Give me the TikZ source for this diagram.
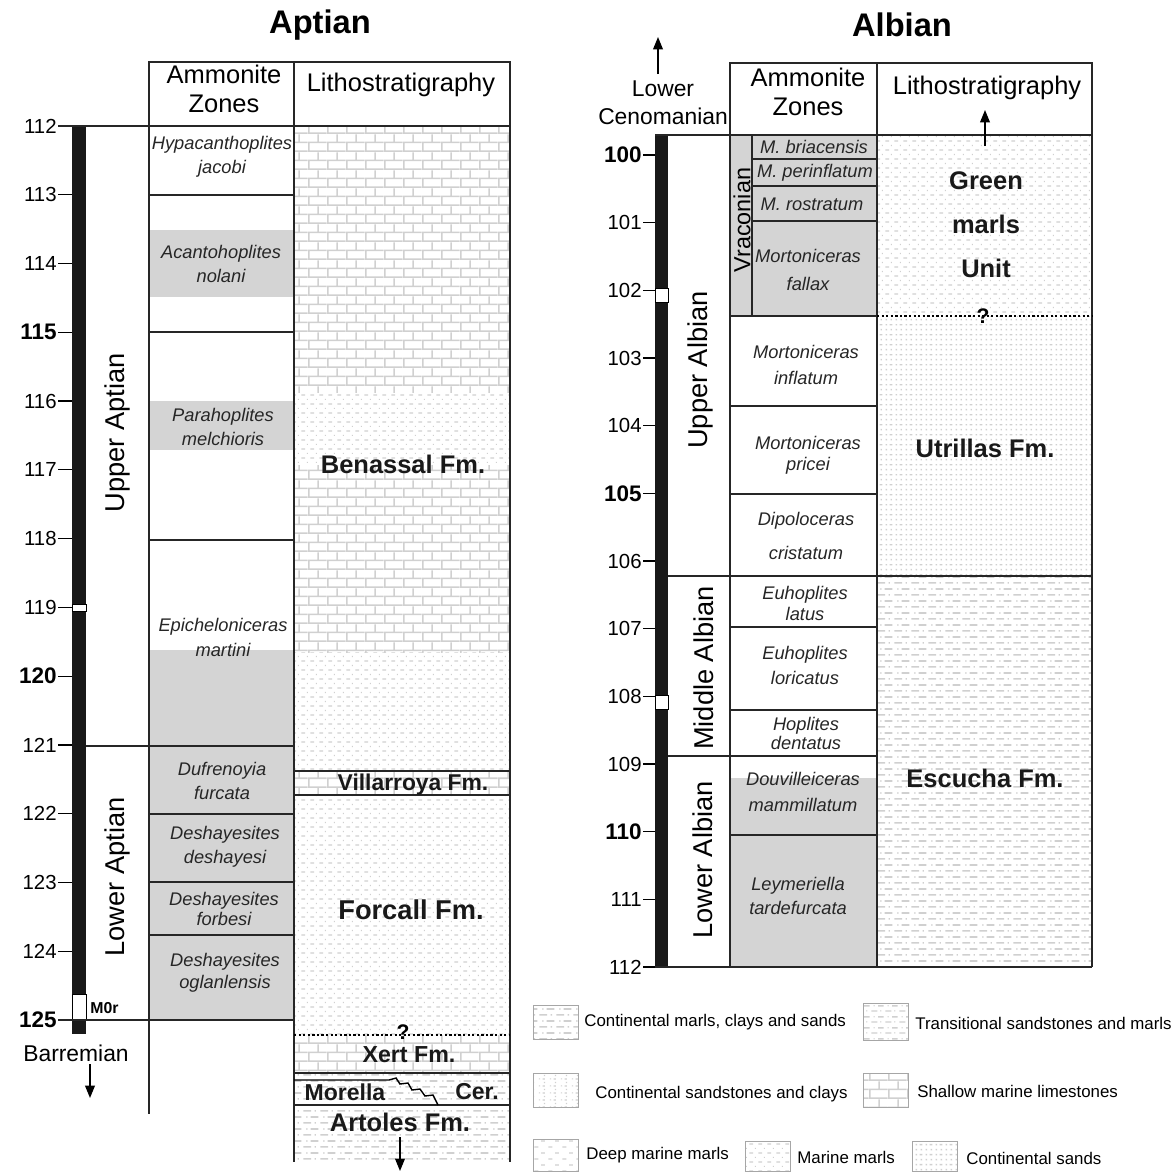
\documentclass[tikz,border=0pt]{standalone}
\usepackage{fontspec}
\setmainfont{Liberation Sans}
\usetikzlibrary{patterns,arrows.meta}

\definecolor{zonegray}{RGB}{212,212,212}
\definecolor{patgray}{RGB}{208,208,208}

% lithology patterns
\pgfdeclarepatternformonly{limebricks}{\pgfpointorigin}{\pgfqpoint{11pt}{10.4pt}}{\pgfqpoint{11pt}{10.4pt}}{%
  \pgfsetlinewidth{0.9pt}
  \pgfpathmoveto{\pgfqpoint{0pt}{0.5pt}}\pgfpathlineto{\pgfqpoint{11pt}{0.5pt}}
  \pgfpathmoveto{\pgfqpoint{0pt}{5.7pt}}\pgfpathlineto{\pgfqpoint{11pt}{5.7pt}}
  \pgfpathmoveto{\pgfqpoint{0.5pt}{0.5pt}}\pgfpathlineto{\pgfqpoint{0.5pt}{5.7pt}}
  \pgfpathmoveto{\pgfqpoint{6pt}{5.7pt}}\pgfpathlineto{\pgfqpoint{6pt}{10.4pt}}
  \pgfusepath{stroke}}
\pgfdeclarepatternformonly{marinemarls}{\pgfpointorigin}{\pgfqpoint{5.2pt}{5.2pt}}{\pgfqpoint{5.2pt}{5.2pt}}{%
  \pgfsetlinewidth{0.8pt}
  \pgfpathmoveto{\pgfqpoint{0.3pt}{0.6pt}}\pgfpathlineto{\pgfqpoint{2.5pt}{0.6pt}}
  \pgfusepath{stroke}
  \pgfpathrectangle{\pgfqpoint{3.6pt}{3.1pt}}{\pgfqpoint{0.7pt}{0.7pt}}
  \pgfusepath{fill}}
\pgfdeclarepatternformonly{contsands}{\pgfpointorigin}{\pgfqpoint{5.6pt}{5.6pt}}{\pgfqpoint{5.6pt}{5.6pt}}{%
  \pgfsetlinewidth{0.8pt}
  \pgfpathmoveto{\pgfqpoint{2.6pt}{3.6pt}}\pgfpathlineto{\pgfqpoint{4.2pt}{3.6pt}}
  \pgfusepath{stroke}
  \pgfpathrectangle{\pgfqpoint{0.4pt}{0.4pt}}{\pgfqpoint{0.8pt}{0.8pt}}
  \pgfpathrectangle{\pgfqpoint{3.2pt}{0.4pt}}{\pgfqpoint{0.8pt}{0.8pt}}
  \pgfpathrectangle{\pgfqpoint{0.4pt}{3.2pt}}{\pgfqpoint{0.8pt}{0.8pt}}
  \pgfusepath{fill}}
\pgfdeclarepatternformonly{contmarls}{\pgfpointorigin}{\pgfqpoint{9.6pt}{6.8pt}}{\pgfqpoint{9.6pt}{6.8pt}}{%
  \pgfsetlinewidth{0.9pt}
  \pgfpathmoveto{\pgfqpoint{0.2pt}{0.6pt}}\pgfpathlineto{\pgfqpoint{4.6pt}{0.6pt}}
  \pgfpathmoveto{\pgfqpoint{4.4pt}{4pt}}\pgfpathlineto{\pgfqpoint{8.8pt}{4pt}}
  \pgfusepath{stroke}
  \pgfpathrectangle{\pgfqpoint{6.6pt}{0.2pt}}{\pgfqpoint{0.8pt}{0.8pt}}
  \pgfpathrectangle{\pgfqpoint{1.8pt}{3.6pt}}{\pgfqpoint{0.8pt}{0.8pt}}
  \pgfusepath{fill}}
\pgfdeclarepatternformonly{deepmarls}{\pgfpointorigin}{\pgfqpoint{8pt}{7pt}}{\pgfqpoint{8pt}{7pt}}{%
  \pgfsetlinewidth{0.8pt}
  \pgfpathmoveto{\pgfqpoint{0.3pt}{0.6pt}}\pgfpathlineto{\pgfqpoint{2.6pt}{0.6pt}}
  \pgfpathmoveto{\pgfqpoint{4.3pt}{4.1pt}}\pgfpathlineto{\pgfqpoint{6.6pt}{4.1pt}}
  \pgfusepath{stroke}}
\pgfdeclarepatternformonly{transit}{\pgfpointorigin}{\pgfqpoint{8pt}{6pt}}{\pgfqpoint{8pt}{6pt}}{%
  \pgfsetlinewidth{0.8pt}
  \pgfpathmoveto{\pgfqpoint{0.2pt}{0.6pt}}\pgfpathlineto{\pgfqpoint{3.8pt}{0.6pt}}
  \pgfpathmoveto{\pgfqpoint{4.2pt}{3.6pt}}\pgfpathlineto{\pgfqpoint{7.6pt}{3.6pt}}
  \pgfusepath{stroke}
  \pgfpathrectangle{\pgfqpoint{5.5pt}{0.3pt}}{\pgfqpoint{0.7pt}{0.7pt}}
  \pgfpathrectangle{\pgfqpoint{1.5pt}{3.3pt}}{\pgfqpoint{0.7pt}{0.7pt}}
  \pgfusepath{fill}}
\pgfdeclarepatternformonly{contsandclay}{\pgfpointorigin}{\pgfqpoint{6pt}{4pt}}{\pgfqpoint{6pt}{4pt}}{%
  \pgfsetlinewidth{0.8pt}
  \pgfpathmoveto{\pgfqpoint{2.8pt}{0.7pt}}\pgfpathlineto{\pgfqpoint{4pt}{0.7pt}}
  \pgfusepath{stroke}
  \pgfpathrectangle{\pgfqpoint{0.5pt}{0.4pt}}{\pgfqpoint{0.7pt}{0.7pt}}
  \pgfpathrectangle{\pgfqpoint{3.5pt}{2.5pt}}{\pgfqpoint{0.7pt}{0.7pt}}
  \pgfusepath{fill}}

\begin{document}
\begin{tikzpicture}[x=0.02cm,y=-0.02cm,
  frame/.style={line width=1.1pt, draw=black!85},
  tickline/.style={line width=0.7pt},
  zone/.style={font=\fontsize{10.4}{12}\selectfont\itshape, text=black!85, align=center, inner sep=0pt},
  stage/.style={font=\fontsize{15.5}{18}\selectfont, rotate=90, inner sep=0pt},
  formation/.style={font=\fontsize{14.5}{17}\selectfont\bfseries, text=black!90, align=center, inner sep=0pt},
  header/.style={font=\fontsize{14.5}{16.4}\selectfont, align=center, inner sep=0pt},
  title/.style={font=\fontsize{18.6}{20}\selectfont\bfseries, inner sep=0pt},
  agelabel/.style={font=\fontsize{11.6}{13}\selectfont, anchor=east, inner sep=0pt},
  agebold/.style={font=\fontsize{12.8}{14}\selectfont\bfseries, anchor=east, inner sep=0pt},
  legtext/.style={font=\fontsize{9.6}{11}\selectfont, anchor=west, inner sep=0pt},
  legbox/.style={draw=black!35, line width=0.5pt, pattern color=patgray},
  lith/.style={pattern color=patgray},
  query/.style={font=\fontsize{12}{13}\selectfont\bfseries, inner sep=0pt},
  sarrow/.style={line width=0.8pt, -{Triangle[length=7pt,width=5.5pt]}},
]
\fill[white] (0,0) rectangle (1176,1171);
\useasboundingbox (0,0) rectangle (1176,1171);

% ---------------- Aptian ----------------
\node[title] (aptT) at (320,25) {Aptian};

% lithology fills
\fill[lith, pattern=limebricks] (294,126) rectangle (510,392);
\fill[lith, pattern=marinemarls] (294,392) rectangle (510,465);
\fill[lith, pattern=limebricks] (294,465) rectangle (510,652);
\fill[lith, pattern=marinemarls] (294,652) rectangle (510,771);
\fill[lith, pattern=limebricks] (294,771) rectangle (510,795);
\fill[lith, pattern=marinemarls] (294,795) rectangle (510,1035);
\fill[lith, pattern=limebricks] (294,1035) rectangle (510,1073);
\fill[lith, pattern=contmarls] (294,1073) rectangle (510,1162);

% ammonite zones shading
\fill[zonegray] (149,230) rectangle (294,297);
\fill[zonegray] (149,401) rectangle (294,450);
\fill[zonegray] (149,650) rectangle (294,1020);

% magnetic polarity bar
\fill[black!90] (72,126) rectangle (86,1034);
\filldraw[fill=white, draw=black, line width=0.5pt] (72,604) rectangle (86,611);
\filldraw[fill=white, draw=black, line width=0.5pt] (72,994) rectangle (86,1020);
\node[font=\fontsize{9}{10}\selectfont\bfseries, anchor=west, inner sep=0pt] (m0r) at (90,1008) {M0r};

% age scale
\foreach \a in {112,...,125} {
  \pgfmathsetmacro\yy{126+(\a-112)*68.77}
  \pgfmathtruncatemacro\isbold{mod(\a,5)==0 ? 1 : 0}
  \draw[tickline] (58,\yy) -- (72,\yy);
  \ifnum\isbold=1
    \node[agebold] (tA\a) at (57,\yy) {\a};
  \else
    \node[agelabel] (tA\a) at (57,\yy) {\a};
  \fi
}

% table frame
\draw[frame] (149,62) rectangle (294,126);
\draw[frame] (294,62) rectangle (510,126);
\draw[frame] (58,126) -- (510,126);
\draw[frame] (86,746) -- (294,746);
\draw[frame] (58,1020) -- (294,1020);
\draw[frame] (149,126) -- (149,1114);
\draw[frame] (294,126) -- (294,1162);
\draw[frame] (510,126) -- (510,1162);
\foreach \yy in {195,332,540,814,882,935}
  \draw[frame] (149,\yy) -- (294,\yy);
\draw[frame] (294,771) -- (510,771);
\draw[frame] (294,795) -- (510,795);
\draw[line width=1.2pt, dash pattern=on 1.3pt off 1.3pt] (294,1035) -- (510,1035);
\draw[frame] (294,1073) -- (510,1073);
\draw[frame] (294,1105) -- (510,1105);
\draw[line width=0.8pt] (294,1080) -- (389,1080) -- (396,1078) -- (400,1084) -- (408,1083)
  -- (412,1090) -- (420,1089) -- (425,1096) -- (433,1095) -- (438,1105);

\node[header] (aAmm) at (224,89) {Ammonite\\Zones};
\node[header] (aLith) at (401,85) {Lithostratigraphy};

\node[stage] (upApt) at (117,433) {Upper Aptian};
\node[stage] (loApt) at (117,877) {Lower Aptian};

% ammonite zones
\node[zone] (zJac) at (222,157) {Hypacanthoplites\\[1.6pt]jacobi};
\node[zone] (zNol) at (221,264) {Acantohoplites\\[1.6pt]nolani};
\node[zone] (zMel) at (223,427) {Parahoplites\\[1.6pt]melchioris};
\node[zone] (zMar) at (223,637) {Epicheloniceras\\[2.2pt]martini};
\node[zone] (zFur) at (222,781) {Dufrenoyia\\[1.6pt]furcata};
\node[zone] (zDes) at (225,847) {Deshayesites\\[1.6pt]deshayesi};
\node[zone] (zFor) at (224,909) {Deshayesites\\[-0.2pt]forbesi};
\node[zone] (zOgl) at (225,973) {Deshayesites\\[0.5pt]oglanlensis};

% formations
\node[formation] (fBen) at (403,464) {Benassal Fm.};
\node[formation, font=\fontsize{13}{15}\selectfont\bfseries] (fVil) at (413,785) {Villarroya Fm.};
\node[formation, font=\fontsize{15.5}{17}\selectfont\bfseries] (fFor) at (411,910) {Forcall Fm.};
\node[query] (qApt) at (403,1032) {?};
\node[formation, font=\fontsize{13.2}{15}\selectfont\bfseries] (fXer) at (409,1055) {Xert Fm.};
\node[formation, font=\fontsize{13.1}{15}\selectfont\bfseries] (fMor) at (345,1092) {Morella};
\node[formation, font=\fontsize{13.1}{15}\selectfont\bfseries] (fCer) at (477,1092) {Cer.};
\node[formation] (fArt) at (400,1122) {Artoles Fm.};

\node[font=\fontsize{13}{15}\selectfont, inner sep=0pt] (barr) at (76,1053) {Barremian};
\coordinate (barA) at (90,1064);
\coordinate (barB) at (90,1098);
\draw[sarrow] (barA) -- (barB);
\coordinate (artA) at (400,1137);
\coordinate (artB) at (400,1171);
\draw[sarrow] (artA) -- (artB);

% ---------------- Albian ----------------
\node[title] (albT) at (902,25) {Albian};

% lithology fills
\fill[lith, pattern=marinemarls] (877,135) rectangle (1092,316);
\fill[lith, pattern=contsands] (877,316) rectangle (1092,576);
\fill[lith, pattern=contmarls] (877,576) rectangle (1092,967);

% ammonite zones shading
\fill[zonegray] (730,135) rectangle (877,316);
\fill[zonegray] (730,778) rectangle (877,967);

% magnetic polarity bar
\fill[black!90] (655,135) rectangle (668,967);
\filldraw[fill=white, draw=black, line width=0.5pt] (655,288) rectangle (668,302);
\filldraw[fill=white, draw=black, line width=0.5pt] (655,695) rectangle (668,709);

% age scale
\foreach \a in {100,...,112} {
  \pgfmathsetmacro\yy{155+(\a-100)*67.67}
  \pgfmathtruncatemacro\isbold{mod(\a,5)==0 ? 1 : 0}
  \draw[tickline] (643,\yy) -- (655,\yy);
  \ifnum\isbold=1
    \node[agebold] (tB\a) at (642,\yy) {\a};
  \else
    \node[agelabel] (tB\a) at (642,\yy) {\a};
  \fi
}

% table frame
\draw[frame] (730,63) rectangle (877,135);
\draw[frame] (877,63) rectangle (1092,135);
\draw[frame] (655,135) -- (1092,135);
\draw[frame] (668,576) -- (1092,576);
\draw[frame] (668,756) -- (877,756);
\draw[frame] (655,967) -- (1092,967);
\draw[frame] (730,135) -- (730,967);
\draw[frame] (877,135) -- (877,967);
\draw[frame] (1092,135) -- (1092,967);
\draw[frame] (752,135) -- (752,316);
\foreach \yy in {159,186,221}
  \draw[frame] (752,\yy) -- (877,\yy);
\foreach \yy in {316,406,494,627,710,835}
  \draw[frame] (730,\yy) -- (877,\yy);
\draw[line width=1.2pt, dash pattern=on 1.3pt off 1.3pt] (877,316) -- (1092,316);

\node[header] (bAmm) at (808,92) {Ammonite\\Zones};
\node[header] (bLith) at (987,88) {Lithostratigraphy};
\node[font=\fontsize{13}{15.9}\selectfont, align=center, inner sep=0pt] (cen) at (663,103) {Lower\\Cenomanian};
\coordinate (cenA) at (658,74);
\coordinate (cenB) at (658,37);
\draw[sarrow] (cenA) -- (cenB);

\node[stage] (upAlb) at (700,370) {Upper Albian};
\node[stage] (miAlb) at (704,668) {Middle Albian};
\node[stage] (loAlb) at (703,860) {Lower Albian};
\node[stage, font=\fontsize{13.3}{15}\selectfont] (vrac) at (742,220) {Vraconian};

% ammonite zones
\node[zone] (zBri) at (814,147) {M. briacensis};
\node[zone] (zPer) at (815,173) {M. perinflatum};
\node[zone] (zRos) at (812,204) {M. rostratum};
\node[zone] (zFal) at (808,270) {Mortoniceras\\[3.9pt]fallax};
\node[zone] (zInf) at (806,365) {Mortoniceras\\[3.3pt]inflatum};
\node[zone] (zPri) at (808,455) {Mortoniceras\\[-0.1pt]pricei};
\node[zone] (zCri) at (806,536) {Dipoloceras\\[7.8pt]cristatum};
\node[zone] (zLat) at (805,603) {Euhoplites\\[-0.1pt]latus};
\node[zone] (zLor) at (805,665) {Euhoplites\\[2.2pt]loricatus};
\node[zone] (zDen) at (806,733) {Hoplites\\[-1.2pt]dentatus};
\node[zone] (zMam) at (803,792) {Douvilleiceras\\[2.7pt]mammillatum};
\node[zone] (zTar) at (798,896) {Leymeriella\\[1.6pt]tardefurcata};

% formations
\node[formation, font=\fontsize{14.5}{25}\selectfont\bfseries] (fGre) at (986,225) {Green\\marls\\Unit};
\coordinate (greA) at (985,146);
\coordinate (greB) at (985,110);
\draw[sarrow] (greA) -- (greB);
\node[query] (qAlb) at (983,316) {?};
\node[formation] (fUtr) at (985,448) {Utrillas Fm.};
\node[formation] (fEsc) at (985,778) {Escucha Fm.};

% ---------------- legend ----------------
\filldraw[legbox, pattern=contmarls] (533,1005) rectangle (578,1039);
\node[legtext] (lCM) at (584,1022) {Continental marls, clays and sands};
\filldraw[legbox, pattern=transit] (863,1003) rectangle (908,1040);
\node[legtext] (lTr) at (915,1023) {Transitional sandstones and marls};
\filldraw[legbox, pattern=contsandclay] (533,1073) rectangle (578,1107);
\node[legtext] (lCS) at (595,1094) {Continental sandstones and clays};
\filldraw[legbox, pattern=limebricks] (863,1073) rectangle (908,1107);
\node[legtext] (lSh) at (917,1091) {Shallow marine limestones};
\filldraw[legbox, pattern=deepmarls] (533,1139) rectangle (578,1171);
\node[legtext] (lDM) at (586,1155) {Deep marine marls};
\filldraw[legbox, pattern=marinemarls] (745,1141) rectangle (790,1171);
\node[legtext] (lMM) at (797,1157) {Marine marls};
\filldraw[legbox, pattern=contsands] (912,1141) rectangle (957,1171);
\node[legtext] (lCo) at (966,1158) {Continental sands};
\end{tikzpicture}
\end{document}
